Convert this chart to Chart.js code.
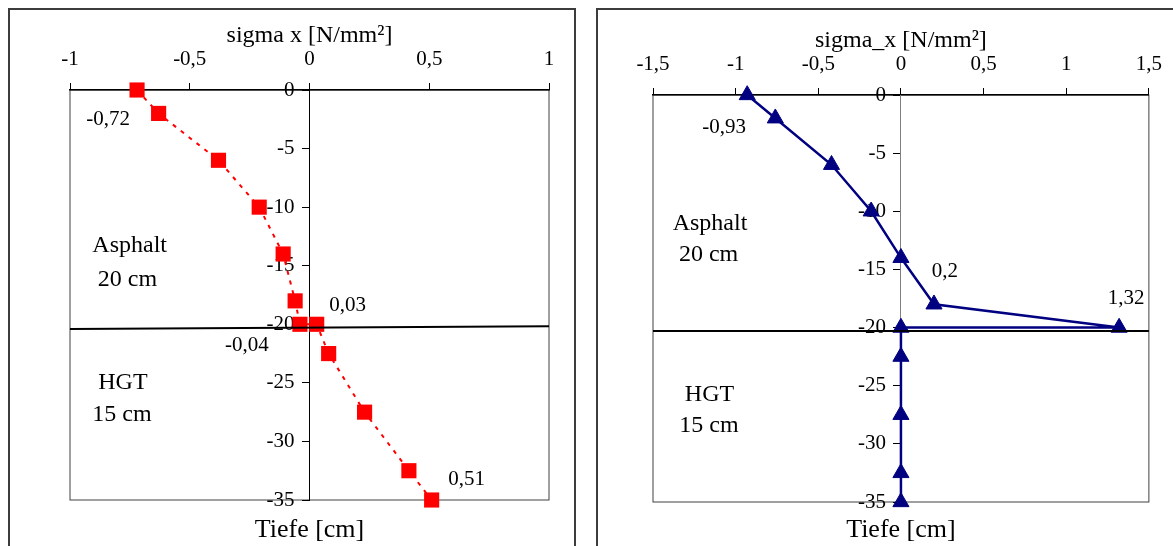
<!DOCTYPE html>
<html>
<head>
<meta charset="utf-8">
<script src="https://cdn.jsdelivr.net/npm/chart.js@4.4.1/dist/chart.umd.min.js"></script>
<style>
  html, body { margin: 0; padding: 0; background: #fff; overflow: hidden; }
  body { width: 1173px; height: 546px; position: relative; }
  .frame { position: absolute; border: 2px solid #3c3c3c; height: 600px; }
  #frameL { left: 8px; top: 8px; width: 564px; }
  #frameR { left: 596px; top: 8px; width: 700px; }
  canvas { position: absolute; }
  #chartL { left: 0; top: 0; }
  #chartR { left: 590px; top: 5px; }
</style>
</head>
<body>
<div class="frame" id="frameL"></div>
<div class="frame" id="frameR"></div>
<canvas id="chartL" width="586" height="546"></canvas>
<canvas id="chartR" width="583" height="541"></canvas>
<script>
// depth (cm) against horizontal stress sigma x (N/mm²)
const depthLeft = [0, -2, -6, -10, -14, -18, -20, -20, -22.5, -27.5, -32.5, -35];
const sigmaLeft = [-0.72, -0.63, -0.38, -0.21, -0.11, -0.06, -0.04, 0.03, 0.08, 0.23, 0.415, 0.51];
const depthRight = [0, -2, -6, -10, -14, -18, -20, -20, -22.5, -27.5, -32.5, -35];
const sigmaRight = [-0.93, -0.76, -0.42, -0.18, 0, 0.2, 1.32, 0, 0, 0, 0, 0];

const xTicksLeft = [-1, -0.5, 0, 0.5, 1];
const xTicksRight = [-1.5, -1, -0.5, 0, 0.5, 1, 1.5];
const yTicks = [0, -5, -10, -15, -20, -25, -30, -35];

// points that carry a value label
const labelIdxLeft = [0, 6, 7, 11];
const labelIdxRight = [0, 5, 6];

// hand-drawn line between asphalt and HGT layer (left and right end)
const layerLineLeft = [-20.4, -20.17];
const layerLineRight = [-20.3, -20.3];

Chart.defaults.font.family = '"Liberation Serif", "Times New Roman", serif';
Chart.defaults.color = '#000';

const fmt = v => String(v).replace('.', ',');
const pts = (xs, ys) => xs.map((x, i) => ({ x, y: ys[i] }));

// frame around the plot area
const plotFrame = {
  id: 'plotFrame',
  beforeDraw(chart) {
    const { ctx, chartArea: a } = chart;
    ctx.save();
    ctx.strokeStyle = '#404040';
    ctx.lineWidth = 1;
    ctx.strokeRect(a.left, a.top, a.right - a.left, a.bottom - a.top);
    ctx.restore();
  }
};

function valueLabels(dsIndex, indices, offsets) {
  return {
    id: 'valueLabels',
    afterDatasetsDraw(chart) {
      const meta = chart.getDatasetMeta(dsIndex);
      const data = chart.data.datasets[dsIndex].data;
      const ctx = chart.ctx;
      ctx.save();
      ctx.font = '21px "Liberation Serif"';
      ctx.fillStyle = '#000';
      ctx.textAlign = 'center';
      ctx.textBaseline = 'middle';
      indices.forEach((i, k) => {
        const p = meta.data[i];
        ctx.fillText(fmt(data[i].x), p.x + offsets[k][0], p.y + offsets[k][1]);
      });
      ctx.restore();
    }
  };
}

function layerText(items) {
  return {
    id: 'layerText',
    afterDatasetsDraw(chart) {
      const { ctx, scales } = chart;
      ctx.save();
      ctx.font = '24px "Liberation Serif"';
      ctx.fillStyle = '#000';
      ctx.textAlign = 'center';
      ctx.textBaseline = 'middle';
      items.forEach(t => ctx.fillText(t.text, scales.x.getPixelForValue(t.x), scales.y.getPixelForValue(t.y)));
      ctx.restore();
    }
  };
}

function makeScales(ticks, title, yBorder, bottomH) {
  const min = ticks[0], max = ticks[ticks.length - 1];
  return {
    x: {
      type: 'linear', position: 'top', min, max,
      afterBuildTicks: s => { s.ticks = ticks.map(v => ({ value: v })); },
      afterFit: s => { s.height = 90; },
      ticks: { callback: fmt, font: { size: 21 }, padding: 11, maxRotation: 0, autoSkip: false },
      grid: { drawOnChartArea: false, tickLength: 7, color: '#000' },
      border: { color: '#000', width: 1.5 },
      title: { display: true, text: title, font: { size: 24 }, padding: { top: 21, bottom: 0 } }
    },
    x2: {
      type: 'linear', position: 'bottom', min, max,
      afterFit: s => { s.height = bottomH; },
      ticks: { display: false },
      grid: { display: false },
      border: { display: false },
      title: { display: true, text: 'Tiefe [cm]', font: { size: 26 }, padding: { top: 0, bottom: 0 } }
    },
    y: {
      type: 'linear', position: 'center', min: -35, max: 0,
      afterBuildTicks: s => { s.ticks = yTicks.map(v => ({ value: v })); },
      ticks: { callback: fmt, font: { size: 21 }, padding: 8 },
      grid: { drawOnChartArea: false, tickLength: 7, color: '#000' },
      border: { color: yBorder, width: 1 }
    }
  };
}

new Chart(document.getElementById('chartL'), {
  type: 'scatter',
  data: {
    datasets: [{
      data: pts([xTicksLeft[0], xTicksLeft[xTicksLeft.length - 1]], layerLineLeft),
      showLine: true, borderColor: '#000', borderWidth: 2, pointRadius: 0, clip: false
    }, {
      data: pts(sigmaLeft, depthLeft),
      showLine: true, borderColor: '#ff0000', borderWidth: 2, borderDash: [4, 6],
      pointStyle: 'rect', pointRadius: 10.7, pointBackgroundColor: '#ff0000',
      pointBorderColor: '#ff0000', pointBorderWidth: 0, clip: false
    }]
  },
  options: {
    responsive: false, animation: false,
    layout: { padding: { left: 70, right: 37, top: 0, bottom: 0 } },
    plugins: { legend: { display: false }, tooltip: { enabled: false } },
    scales: makeScales(xTicksLeft, 'sigma x [N/mm²]', '#000', 46)
  },
  plugins: [
    plotFrame,
    valueLabels(1, labelIdxLeft, [[-29, 29], [-53, 21], [31, -19], [35, -21]]),
    layerText([
      { text: 'Asphalt', x: -0.751, y: -13.3 },
      { text: '20 cm', x: -0.76, y: -16.2 },
      { text: 'HGT', x: -0.779, y: -25.0 },
      { text: '15 cm', x: -0.783, y: -27.75 }
    ])
  ]
});

new Chart(document.getElementById('chartR'), {
  type: 'scatter',
  data: {
    datasets: [{
      data: pts([xTicksRight[0], xTicksRight[xTicksRight.length - 1]], layerLineRight),
      showLine: true, borderColor: '#000', borderWidth: 2, pointRadius: 0, clip: false
    }, {
      data: pts(sigmaRight, depthRight),
      showLine: true, borderColor: '#000080', borderWidth: 2.5,
      pointStyle: 'triangle', pointRadius: 9.3, pointBackgroundColor: '#000080',
      pointBorderColor: '#000080', pointBorderWidth: 1, clip: false
    }]
  },
  options: {
    responsive: false, animation: false,
    layout: { padding: { left: 63, right: 23, top: 0, bottom: 0 } },
    plugins: { legend: { display: false }, tooltip: { enabled: false } },
    scales: makeScales(xTicksRight, 'sigma_x [N/mm²]', '#808080', 44)
  },
  plugins: [
    plotFrame,
    valueLabels(1, labelIdxRight, [[-23, 32], [11, -33], [7, -29]]),
    layerText([
      { text: 'Asphalt', x: -1.155, y: -11.1 },
      { text: '20 cm', x: -1.164, y: -13.76 },
      { text: 'HGT', x: -1.158, y: -25.8 },
      { text: '15 cm', x: -1.161, y: -28.4 }
    ])
  ]
});
</script>
</body>
</html>
